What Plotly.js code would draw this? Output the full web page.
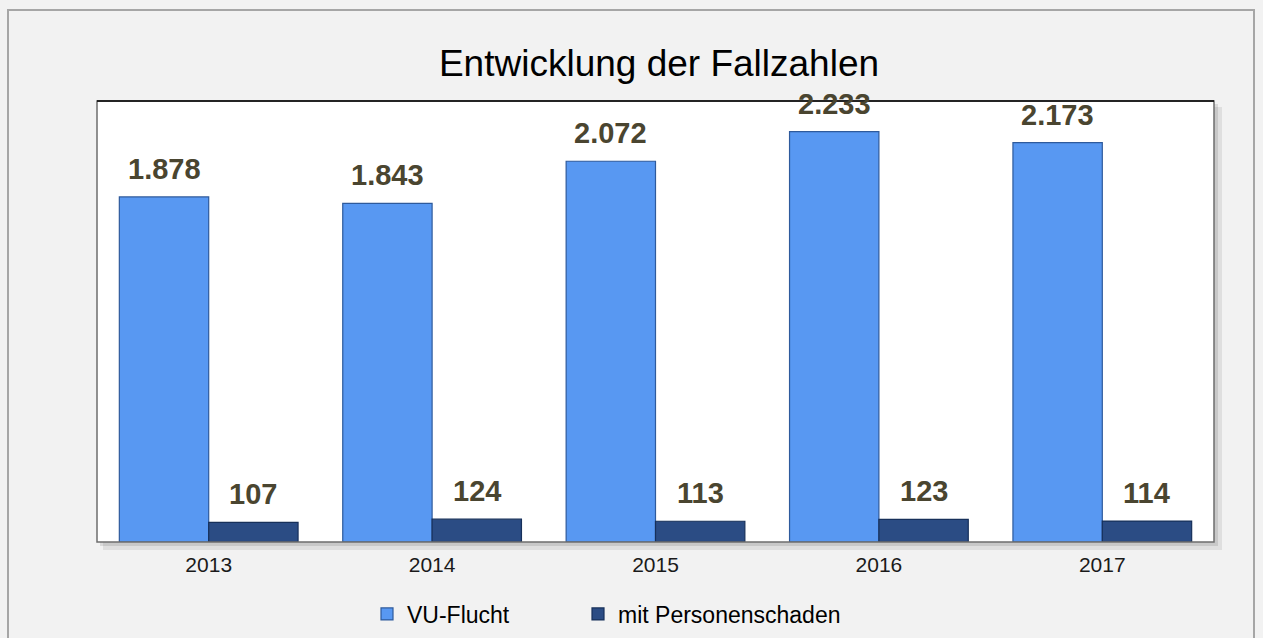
<!DOCTYPE html>
<html>
<head>
<meta charset="utf-8">
<script src="https://cdn.plot.ly/plotly-3.0.1.min.js"></script>
<style>html,body{margin:0;padding:0;background:#f2f2f2;}#chart{width:1263px;height:638px;}</style>
</head>
<body>
<div id="chart"></div>
<script>
const years = ["2013", "2014", "2015", "2016", "2017"];
const vuFlucht = [1878, 1843, 2072, 2233, 2173];
const personenschaden = [107, 124, 113, 123, 114];
const seriesNames = ["VU-Flucht", "mit Personenschaden"];
const chartTitle = "Entwicklung der Fallzahlen";

const W = 1263, H = 638;
const M = {l: 97, r: 49, t: 101, b: 96, autoexpand: false};
const plotW = W - M.l - M.r, plotH = H - M.t - M.b;
const bargap = 0.2;
const halfBar = (plotW / years.length) * (1 - bargap) / 4;

function fmt(v) { return String(v).replace(/\B(?=(\d{3})+(?!\d))/g, "."); }

const font = "Liberation Sans, Arial, sans-serif";

const traces = [
  {type: "bar", name: seriesNames[0], x: years, y: vuFlucht, legend: "legend",
   marker: {color: "#5898f2", line: {color: "#2e5a9c", width: 1.2}}, hoverinfo: "x+y"},
  {type: "bar", name: seriesNames[1], x: years, y: personenschaden, legend: "legend2",
   marker: {color: "#2b4c84", line: {color: "#17305a", width: 1.2}}, hoverinfo: "x+y"}
];

const annotations = [];
[vuFlucht, personenschaden].forEach((arr, s) => {
  arr.forEach((v, i) => {
    annotations.push({x: i, y: v, xref: "x", yref: "y", text: fmt(v), showarrow: false,
      xshift: s === 0 ? -halfBar : halfBar, yshift: 28, yanchor: "middle",
      font: {family: font, size: 29, color: "#4a4530", weight: "bold"}});
  });
});

const shapes = [
  {type: "rect", xref: "paper", yref: "paper", x0: (8 - M.l) / plotW, x1: (1254 - M.l) / plotW,
   y0: -0.5, y1: (H - M.b - 10) / plotH, line: {color: "#a6a6a6", width: 2}, layer: "below"},
  {type: "rect", xref: "paper", yref: "paper", x0: 6 / plotW, x1: 1 + 8 / plotW, y0: -8 / plotH, y1: 1 - 6 / plotH,
   fillcolor: "rgba(0,0,0,0.08)", line: {width: 0}, layer: "below"},
  {type: "rect", xref: "paper", yref: "paper", x0: 3 / plotW, x1: 1 + 4 / plotW, y0: -4 / plotH, y1: 1 - 3 / plotH,
   fillcolor: "rgba(0,0,0,0.10)", line: {width: 0}, layer: "below"},
  {type: "rect", xref: "paper", yref: "paper", x0: 0, x1: 1, y0: 0, y1: 1,
   fillcolor: "#ffffff", line: {width: 0}, layer: "below"},
  {type: "rect", xref: "paper", yref: "paper", x0: 0, x1: 1, y0: 0, y1: 1,
   line: {color: "#6e6e6e", width: 1.5}},
  {type: "line", xref: "paper", yref: "paper", x0: 0, x1: 1, y0: 1, y1: 1,
   line: {color: "#000000", width: 1.5}}
];

const legendCommon = {orientation: "h", xanchor: "left", y: (H - M.b - 614) / plotH, yanchor: "middle",
  font: {family: font, size: 23, color: "#000"}, bgcolor: "rgba(0,0,0,0)"};

const layout = {
  width: W, height: H,
  margin: M,
  paper_bgcolor: "#f2f2f2",
  plot_bgcolor: "rgba(0,0,0,0)",
  font: {family: font, color: "#000"},
  title: {text: chartTitle, font: {family: font, size: 37, color: "#000"},
          x: (659 - M.l) / plotW, xref: "paper", xanchor: "center", y: 1 - 63 / H, yanchor: "middle"},
  barmode: "group",
  bargap: bargap,
  bargroupgap: 0,
  xaxis: {type: "category", range: [-0.5, years.length - 0.5], showgrid: false, zeroline: false, showline: false, ticks: "",
          automargin: false, ticklabelstandoff: 8, tickfont: {family: font, size: 21, color: "#1a1a1a"}, fixedrange: true},
  yaxis: {range: [0, 2400], visible: false, showgrid: false, zeroline: false, fixedrange: true, automargin: false},
  showlegend: true,
  legend: Object.assign({x: (367 - M.l) / plotW}, legendCommon),
  legend2: Object.assign({x: (578 - M.l) / plotW}, legendCommon),
  annotations: annotations,
  shapes: shapes
};

Plotly.newPlot("chart", traces, layout, {displayModeBar: false, staticPlot: true});
</script>
</body>
</html>
